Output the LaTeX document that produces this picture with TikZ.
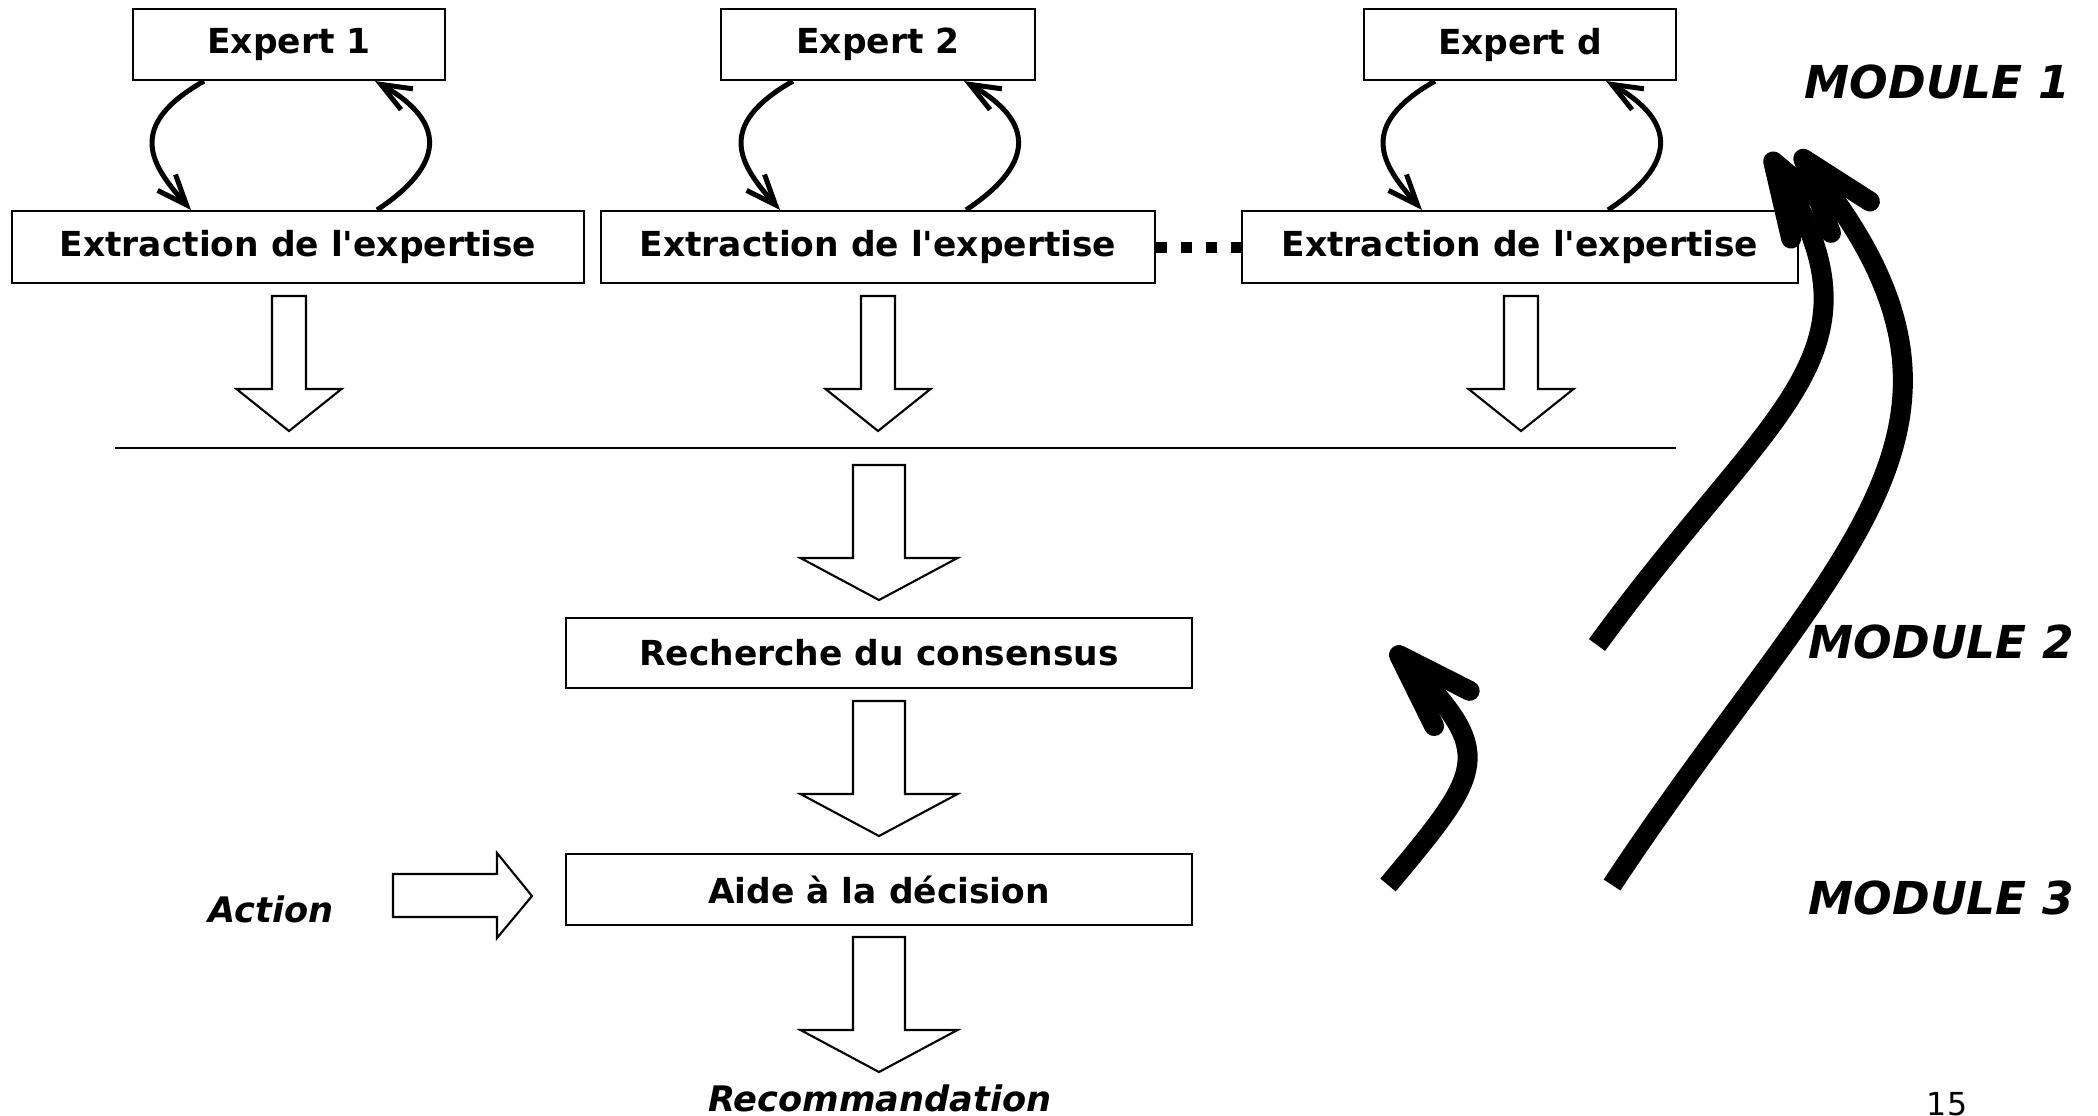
\documentclass[tikz,border=0pt]{standalone}
\usepackage{fontspec}
\setmainfont{DejaVu Sans}[BoldFont={DejaVu Sans Bold},ItalicFont={DejaVu Sans Oblique},BoldItalicFont={DejaVu Sans Bold Oblique}]
\usetikzlibrary{arrows.meta}

\tikzset{
  boite/.style={draw,line width=0.6pt,inner sep=0pt,font=\fontsize{9.8}{12}\selectfont\bfseries},
  bloc/.style={draw,line width=0.6pt,line join=miter},
  boucle/.style={line width=0.05cm,-{Straight Barb[length=0.3cm,width=0.24cm]}},
  retour/.style={line width=0.2cm,-{Straight Barb[round,length=0.75cm,width=0.5cm]}},
  pointille/.style={line width=0.11cm,dash pattern=on 0.11cm off 0.14cm},
  module/.style={anchor=base west,inner sep=0pt,font=\fontsize{12.9}{15}\selectfont\bfseries\itshape},
  etiq/.style={anchor=base,inner sep=0pt,font=\fontsize{10}{12}\selectfont\bfseries\itshape},
  pics/fleche/.style 2 args={code={
    \draw[bloc] (-#1,0) -- (-#1,93) -- (-#2,93) -- (0,135) -- (#2,93) -- (#1,93) -- (#1,0) -- cycle;
  }},
}

\begin{document}
\begin{tikzpicture}[x=0.01cm,y=-0.01cm]
  \useasboundingbox (0,0) rectangle (2098,1115);
  % experts et extraction
  \node[boite,minimum width=3.12cm,minimum height=0.71cm] (e1) at (289,44.5) {Expert 1};
  \node[boite,minimum width=3.13cm,minimum height=0.71cm] (e2) at (878,44.5) {Expert 2};
  \node[boite,minimum width=3.12cm,minimum height=0.71cm] (ed) at (1520,44.5) {Expert d};
  \node[boite,minimum width=5.72cm,minimum height=0.72cm] (x1) at (298,247) {Extraction de l\textquotesingle expertise};
  \node[boite,minimum width=5.54cm,minimum height=0.72cm] (x2) at (878,247) {Extraction de l\textquotesingle expertise};
  \node[boite,minimum width=5.55cm,minimum height=0.72cm] (xd) at (1520,247) {Extraction de l\textquotesingle expertise};
  \node[boite,minimum width=6.26cm,minimum height=0.70cm] (rc) at (879,653) {Recherche du consensus};
  \node[boite,minimum width=6.26cm,minimum height=0.71cm] (ad) at (879,889.5) {Aide à la décision};
  \foreach \n/\dx in {1/0.09cm,2/0cm,d/0cm} {
    \draw[boucle] ([xshift=-0.85cm]e\n.south) .. controls +(-79,45) and +(-40,-45) .. ([xshift=-0.98cm-\dx]x\n.north);
    \draw[boucle] ([xshift=0.88cm-\dx]x\n.north) .. controls +(68,-45) and +(72,41) .. ([xshift=0.86cm]e\n.south);
  }
  \draw[pointille] (x2.east) -- (xd.west);
  % fleches creuses
  \pic at (289,296) {fleche={17}{52.5}};
  \pic at (878,296) {fleche={17}{52.5}};
  \pic at (1521,296) {fleche={17}{52.5}};
  \draw[line width=0.6pt] (115,448) -- (1676,448);
  \pic at (879,465) {fleche={26}{78.5}};
  \pic at (879,701) {fleche={26}{78.5}};
  \pic at (879,937) {fleche={26}{78.5}};
  \draw[bloc] (393,874) -- (497,874) -- (497,853) -- (532,896) -- (497,938) -- (497,917) -- (393,917) -- cycle;
  % textes
  \node[etiq] (act) at (271,922) {Action};
  \node[etiq] (rec) at (880,1111) {Recommandation};
  \node[module] (m1) at (1804,98) {MODULE 1};
  \node[module] (m2) at (1808,658) {MODULE 2};
  \node[module] (m3) at (1808,914) {MODULE 3};
  \node[anchor=north,inner sep=0pt,font=\fontsize{9}{11}\selectfont] (num) at (1947,1092) {15};
  % retours
  \coordinate (a1) at (1597,645); \coordinate (b1) at (1768,153);
  \coordinate (a2) at (1612,885); \coordinate (b2) at (1797,151);
  \coordinate (a3) at (1388,885); \coordinate (b3) at (1392,648);
  \draw[retour] (a1) .. controls (1774,402) and (1893,357) .. (b1);
  \draw[retour] (a2) .. controls (1833,551) and (2023,431) .. (b2);
  \draw[retour] (a3) .. controls (1484,770) and (1497,754) .. (b3);
\end{tikzpicture}
\end{document}
